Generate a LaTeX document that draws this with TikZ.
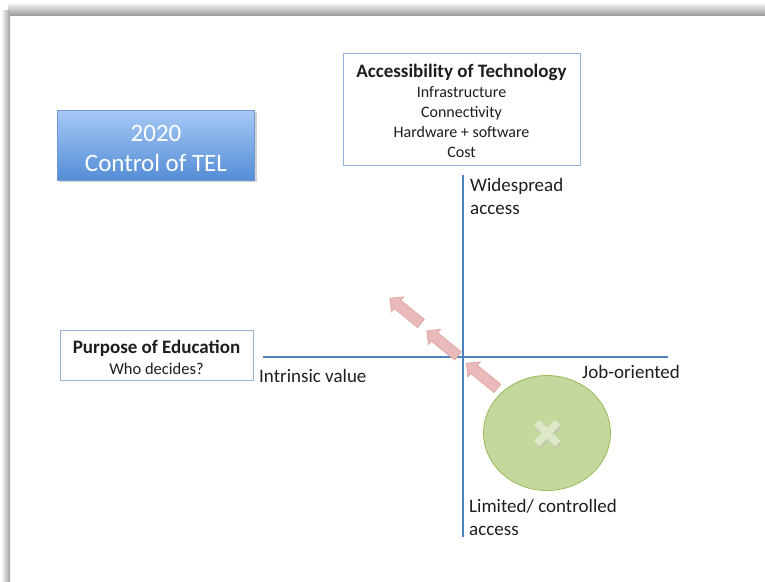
\documentclass[tikz,border=0pt]{standalone}
\usepackage{fontspec}
\setmainfont{Carlito}
\usepackage{tikz}
\usetikzlibrary{shapes.geometric, shapes.arrows, shadows, positioning, calc}

\definecolor{axisblue}{RGB}{79,129,189}
\definecolor{boxedge}{RGB}{149,179,215}
\definecolor{tealtop}{RGB}{167,201,246}
\definecolor{tealbot}{RGB}{84,141,214}
\definecolor{tealedge}{RGB}{112,152,208}
\definecolor{blobfill}{RGB}{196,215,156}
\definecolor{blobedge}{RGB}{155,187,89}
\definecolor{crossfill}{RGB}{221,232,200}
\definecolor{arrowfill}{RGB}{233,186,185}
\definecolor{arrowedge}{RGB}{220,160,158}
\definecolor{inktext}{RGB}{30,30,30}

\begin{document}
\begin{tikzpicture}[x=1pt, y=-1pt,
    box/.style={draw=boxedge, line width=0.9pt, fill=white, inner sep=0pt},
    boxtext/.style={align=center, inner sep=0pt, text=inktext},
    titlebox/.style={draw=tealedge, line width=0.6pt, top color=tealtop, bottom color=tealbot,
        inner sep=0pt, drop shadow={shadow xshift=2pt, shadow yshift=-2pt, opacity=0.35}},
    axis/.style={draw=axisblue, line width=1.6pt},
    lab/.style={align=left, inner sep=0pt, text=inktext, font=\fontsize{19}{23}\selectfont},
    pusharrow/.style={single arrow, draw=arrowedge, fill=arrowfill, line width=0.6pt,
        minimum height=40pt, minimum width=19pt, inner sep=5pt, single arrow head extend=4.5pt}]
    \useasboundingbox (0,0) rectangle (765,581);

    % Slide shadow along top and left
    \shade[top color=white, bottom color=black!38] (8,2) rectangle (765,15);
    \shade[left color=white, right color=black!38] (1,10) rectangle (10,581);

    % Define axis crossing
    \def\cx{463} % x of vertical axis
    \def\cy{357} % y of horizontal axis

    % Title box
    \node[titlebox, minimum width=197pt, minimum height=70pt] (title) at (156,145) {};
    \node[boxtext, text=white, font=\fontsize{25}{30}\selectfont] (titletext)
        at ([yshift=-3pt]title.center) {2020\\Control of TEL};

    % The two dimension boxes
    \node[box, minimum width=237pt, minimum height=112pt] (access) at (461.5,109) {};
    \node[boxtext, font=\fontsize{16}{20}\selectfont] (accesstext) at ([yshift=-2pt]access.center)
        {\fontsize{19}{20}\selectfont\bfseries Accessibility of Technology\\
         Infrastructure\\Connectivity\\Hardware + software\\Cost};
    \node[box, minimum width=193pt, minimum height=50pt] (purpose) at (156.5,355) {};
    \node[boxtext, font=\fontsize{16.5}{21}\selectfont] (purposetext) at ([yshift=-2pt]purpose.center)
        {\fontsize{19}{21}\selectfont\bfseries Purpose of Education\\
         Who decides?};

    % Axes
    \coordinate (top) at (\cx,175);
    \coordinate (bottom) at (\cx,537);
    \coordinate (left) at (263,\cy);
    \coordinate (right) at (668,\cy);
    \draw[axis] (top) -- (bottom);
    \draw[axis] (left) -- (right);

    % Axis labels
    \node[lab, anchor=north west] (wide) at (470,178) {Widespread\\access};
    \node[lab, anchor=north west] (limited) at (469,499) {Limited/ controlled\\access};
    \node[lab, anchor=west] (intrinsic) at (259,376) {Intrinsic value};
    \node[lab, anchor=west] (job) at (582,372) {Job-oriented};

    % Position marker
    \node[ellipse, draw=blobedge, line width=0.8pt, fill=blobfill,
        minimum width=127pt, minimum height=115pt] (blob) at (547,433) {};
    \draw[line width=7.5pt, draw=black!25, opacity=0.4]
        ($(blob.center)+(-9,-8)$) -- ++(21,21) ($(blob.center)+(12,-8)$) -- ++(-21,21);
    \draw[line width=7.5pt, draw=crossfill]
        ($(blob.center)+(-10.5,-10.5)$) -- ++(21,21) ($(blob.center)+(10.5,-10.5)$) -- ++(-21,21);

    % Direction of movement
    \foreach \i/\mx/\my in {1/484/377.5, 2/444.5/345, 3/407.5/312.5} {
        \node[pusharrow, rotate=141] (move\i) at (\mx,\my) {};
    }
\end{tikzpicture}
\end{document}
